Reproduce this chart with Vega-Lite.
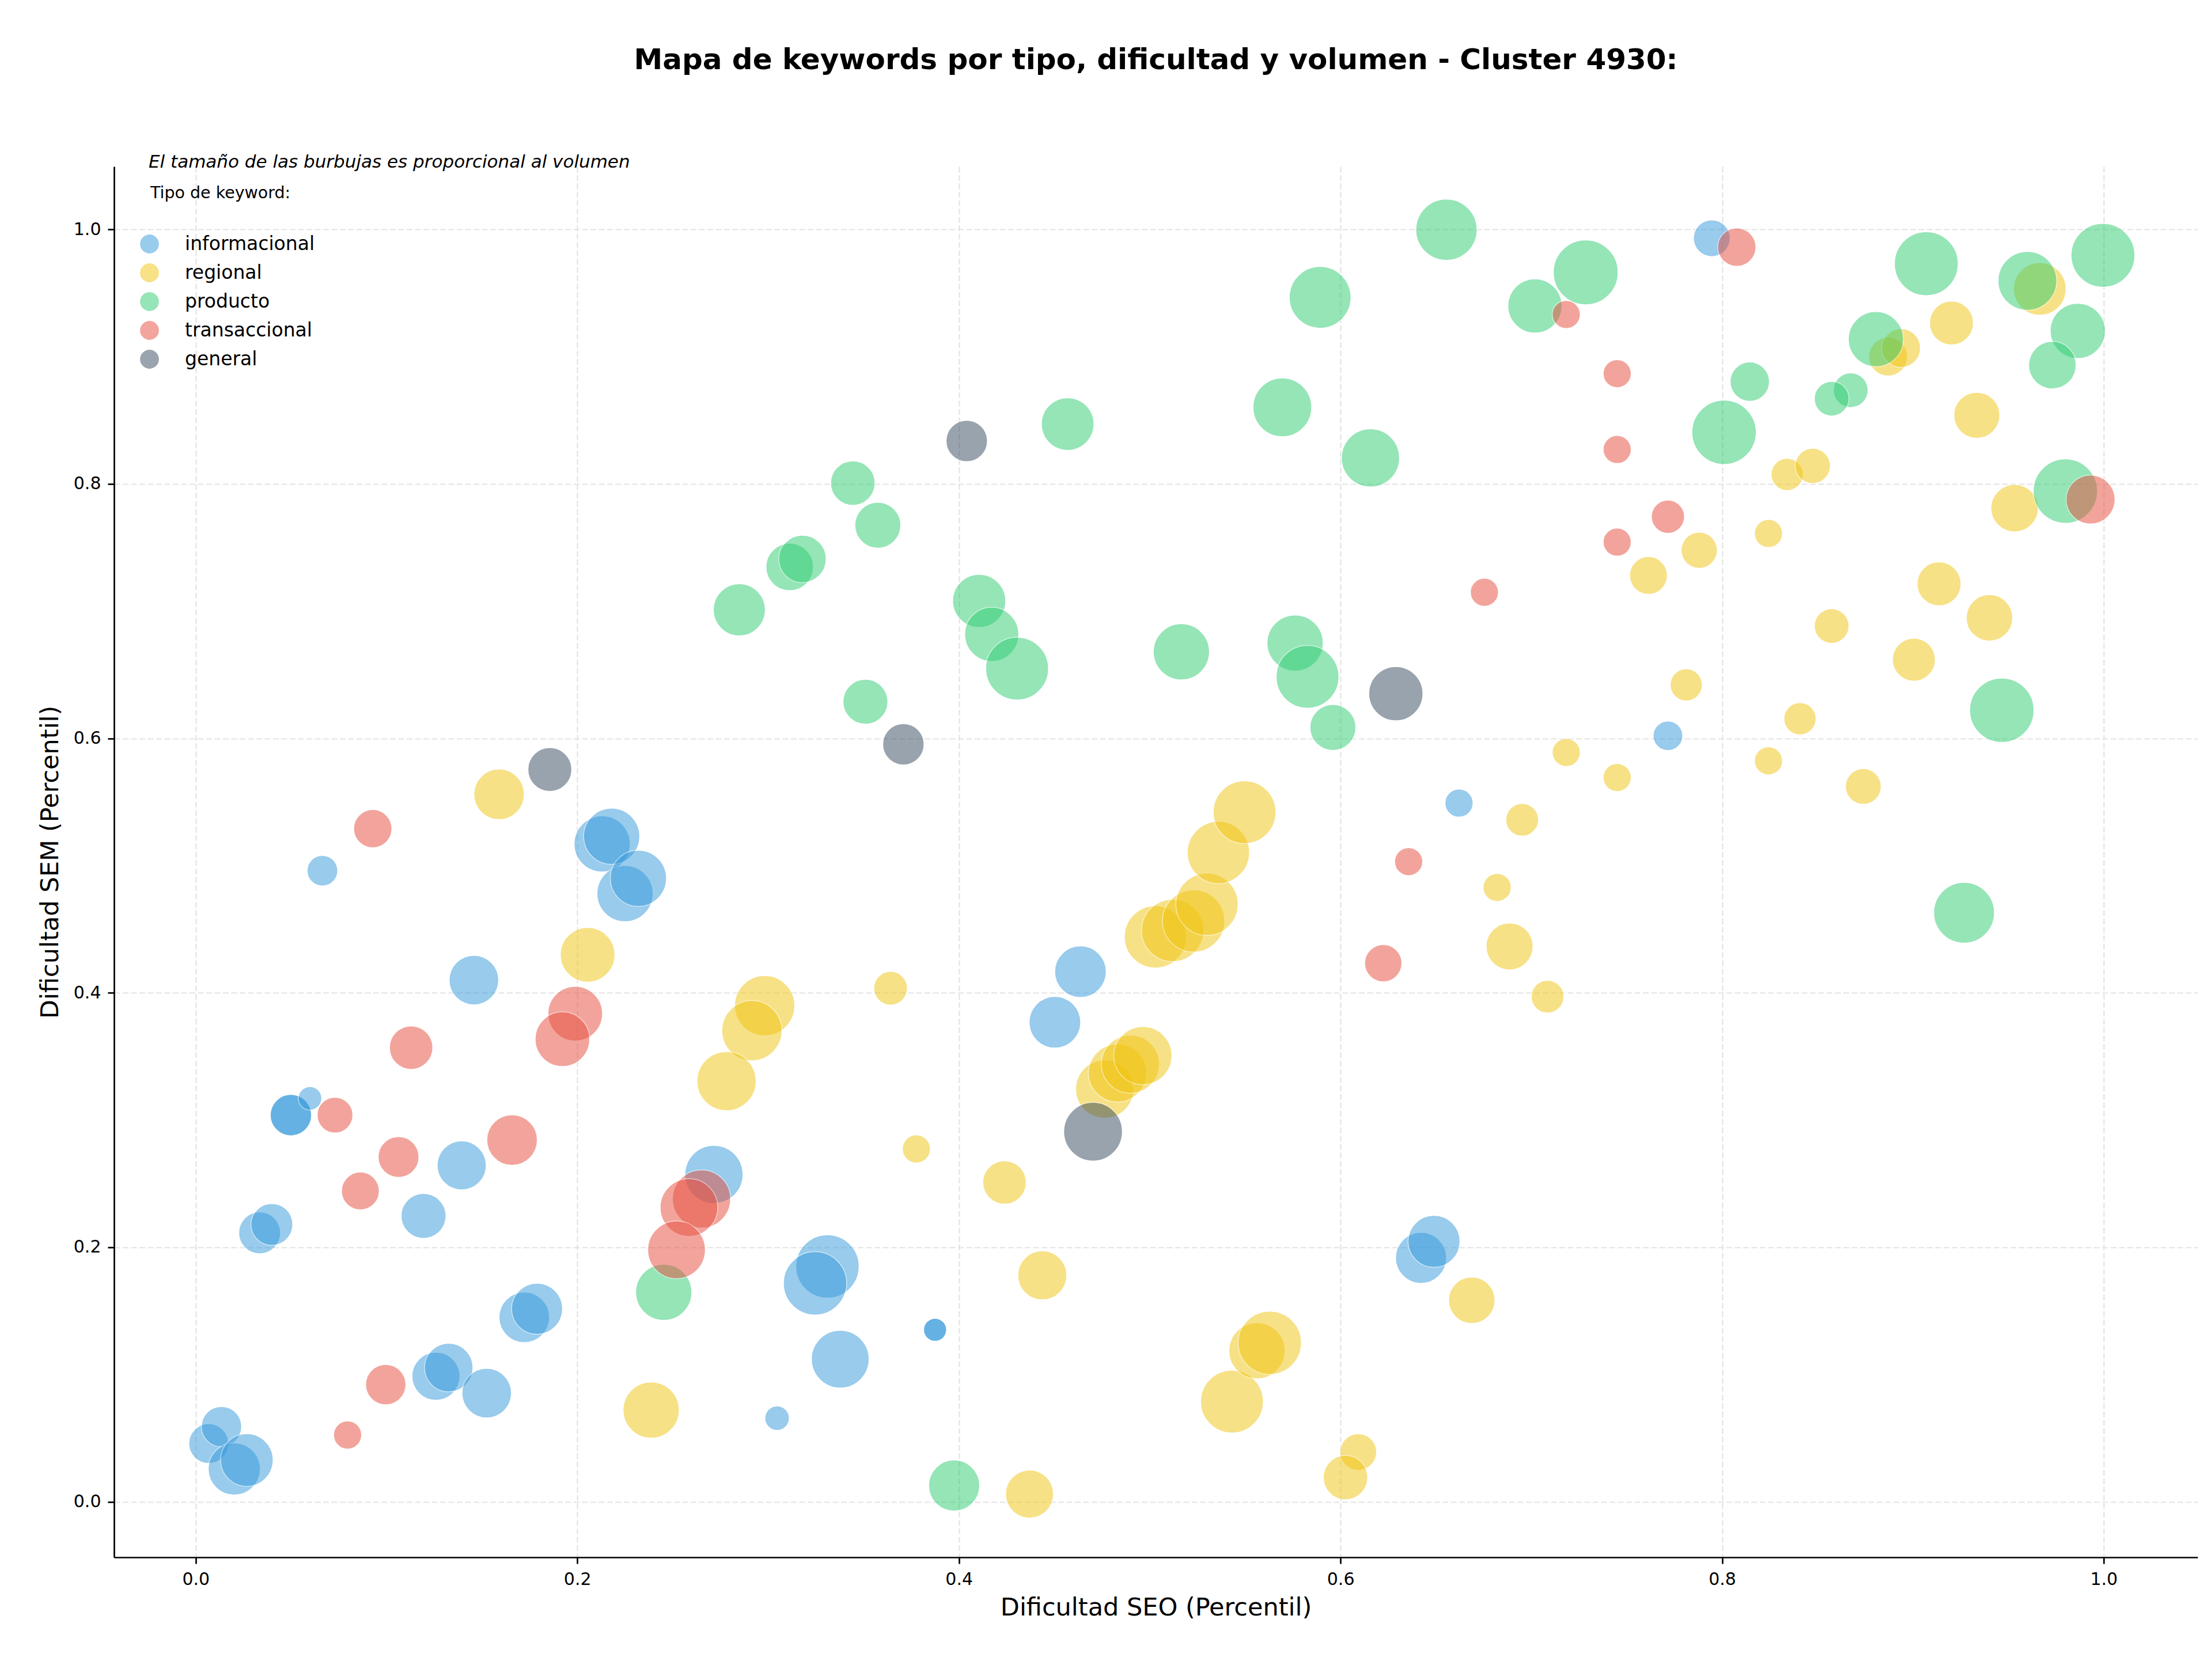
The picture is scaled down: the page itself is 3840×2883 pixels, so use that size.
{
  "$schema": "https://vega.github.io/schema/vega-lite/v6.json",
  "width": 3617,
  "height": 2414,
  "autosize": {"type": "none"},
  "padding": {"left": 198, "top": 289, "right": 25, "bottom": 180},
  "background": "white",
  "config": {
    "view": {"stroke": null},
    "font": "DejaVu Sans"
  },
  "title": {
    "text": "Mapa de keywords por tipo, dificultad y volumen - Cluster 4930:",
    "anchor": "middle",
    "frame": "group",
    "font": "DejaVu Sans",
    "fontSize": 50,
    "fontWeight": "bold",
    "color": "black",
    "baseline": "alphabetic",
    "offset": 96
  },
  "layer": [
    {
      "data": {
        "values": [
          {"seo": 0.0664, "sem": 0.496, "tipo": "informacional", "volumen": 360},
          {"seo": 0.213, "sem": 0.517, "tipo": "informacional", "volumen": 1210},
          {"seo": 0.218, "sem": 0.523, "tipo": "informacional", "volumen": 1210},
          {"seo": 0.225, "sem": 0.478, "tipo": "informacional", "volumen": 1210},
          {"seo": 0.232, "sem": 0.49, "tipo": "informacional", "volumen": 1210},
          {"seo": 0.1458, "sem": 0.41, "tipo": "informacional", "volumen": 941},
          {"seo": 0.0499, "sem": 0.3039, "tipo": "informacional", "volumen": 656},
          {"seo": 0.0499, "sem": 0.3039, "tipo": "informacional", "volumen": 656},
          {"seo": 0.0599, "sem": 0.3171, "tipo": "informacional", "volumen": 212},
          {"seo": 0.1394, "sem": 0.2644, "tipo": "informacional", "volumen": 922},
          {"seo": 0.1194, "sem": 0.2247, "tipo": "informacional", "volumen": 774},
          {"seo": 0.0335, "sem": 0.2114, "tipo": "informacional", "volumen": 672},
          {"seo": 0.0399, "sem": 0.218, "tipo": "informacional", "volumen": 672},
          {"seo": 0.1722, "sem": 0.145, "tipo": "informacional", "volumen": 980},
          {"seo": 0.1789, "sem": 0.1517, "tipo": "informacional", "volumen": 1000},
          {"seo": 0.1259, "sem": 0.0987, "tipo": "informacional", "volumen": 884},
          {"seo": 0.1326, "sem": 0.1055, "tipo": "informacional", "volumen": 903},
          {"seo": 0.1525, "sem": 0.0854, "tipo": "informacional", "volumen": 941},
          {"seo": 0.0068, "sem": 0.0458, "tipo": "informacional", "volumen": 608},
          {"seo": 0.0135, "sem": 0.0591, "tipo": "informacional", "volumen": 624},
          {"seo": 0.0202, "sem": 0.0258, "tipo": "informacional", "volumen": 1040},
          {"seo": 0.0268, "sem": 0.0328, "tipo": "informacional", "volumen": 1061},
          {"seo": 0.2716, "sem": 0.2573, "tipo": "informacional", "volumen": 1300},
          {"seo": 0.3311, "sem": 0.185, "tipo": "informacional", "volumen": 1538},
          {"seo": 0.3246, "sem": 0.1717, "tipo": "informacional", "volumen": 1538},
          {"seo": 0.3378, "sem": 0.1121, "tipo": "informacional", "volumen": 1277},
          {"seo": 0.3047, "sem": 0.0658, "tipo": "informacional", "volumen": 230},
          {"seo": 0.3875, "sem": 0.1352, "tipo": "informacional", "volumen": 203},
          {"seo": 0.3875, "sem": 0.1352, "tipo": "informacional", "volumen": 203},
          {"seo": 0.4637, "sem": 0.4166, "tipo": "informacional", "volumen": 1020},
          {"seo": 0.4503, "sem": 0.3769, "tipo": "informacional", "volumen": 1020},
          {"seo": 0.6621, "sem": 0.5491, "tipo": "informacional", "volumen": 303},
          {"seo": 0.7716, "sem": 0.602, "tipo": "informacional", "volumen": 336},
          {"seo": 0.7946, "sem": 0.993, "tipo": "informacional", "volumen": 518},
          {"seo": 0.6422, "sem": 0.1917, "tipo": "informacional", "volumen": 1000},
          {"seo": 0.649, "sem": 0.2047, "tipo": "informacional", "volumen": 1040},

          {"seo": 0.159, "sem": 0.556, "tipo": "regional", "volumen": 980},
          {"seo": 0.2054, "sem": 0.4299, "tipo": "regional", "volumen": 1145},
          {"seo": 0.2982, "sem": 0.3899, "tipo": "regional", "volumen": 1392},
          {"seo": 0.2915, "sem": 0.3703, "tipo": "regional", "volumen": 1392},
          {"seo": 0.2782, "sem": 0.3306, "tipo": "regional", "volumen": 1346},
          {"seo": 0.3642, "sem": 0.4036, "tipo": "regional", "volumen": 436},
          {"seo": 0.3777, "sem": 0.2773, "tipo": "regional", "volumen": 303},
          {"seo": 0.2387, "sem": 0.0721, "tipo": "regional", "volumen": 1210},
          {"seo": 0.4437, "sem": 0.178, "tipo": "regional", "volumen": 922},
          {"seo": 0.4239, "sem": 0.251, "tipo": "regional", "volumen": 723},
          {"seo": 0.437, "sem": 0.0061, "tipo": "regional", "volumen": 884},
          {"seo": 0.4764, "sem": 0.3244, "tipo": "regional", "volumen": 1300},
          {"seo": 0.4831, "sem": 0.337, "tipo": "regional", "volumen": 1300},
          {"seo": 0.4899, "sem": 0.344, "tipo": "regional", "volumen": 1300},
          {"seo": 0.4964, "sem": 0.3506, "tipo": "regional", "volumen": 1300},
          {"seo": 0.503, "sem": 0.444, "tipo": "regional", "volumen": 1488},
          {"seo": 0.512, "sem": 0.449, "tipo": "regional", "volumen": 1488},
          {"seo": 0.523, "sem": 0.4565, "tipo": "regional", "volumen": 1488},
          {"seo": 0.53, "sem": 0.4696, "tipo": "regional", "volumen": 1488},
          {"seo": 0.536, "sem": 0.5103, "tipo": "regional", "volumen": 1488},
          {"seo": 0.5497, "sem": 0.542, "tipo": "regional", "volumen": 1513},
          {"seo": 0.5431, "sem": 0.0788, "tipo": "regional", "volumen": 1513},
          {"seo": 0.5562, "sem": 0.1187, "tipo": "regional", "volumen": 1210},
          {"seo": 0.5629, "sem": 0.125, "tipo": "regional", "volumen": 1538},
          {"seo": 0.6093, "sem": 0.0391, "tipo": "regional", "volumen": 518},
          {"seo": 0.6026, "sem": 0.0191, "tipo": "regional", "volumen": 757},
          {"seo": 0.6688, "sem": 0.1584, "tipo": "regional", "volumen": 828},
          {"seo": 0.6821, "sem": 0.4828, "tipo": "regional", "volumen": 303},
          {"seo": 0.6886, "sem": 0.4365, "tipo": "regional", "volumen": 846},
          {"seo": 0.7085, "sem": 0.397, "tipo": "regional", "volumen": 410},
          {"seo": 0.6952, "sem": 0.536, "tipo": "regional", "volumen": 410},
          {"seo": 0.7183, "sem": 0.5889, "tipo": "regional", "volumen": 303},
          {"seo": 0.745, "sem": 0.5692, "tipo": "regional", "volumen": 303},
          {"seo": 0.7812, "sem": 0.642, "tipo": "regional", "volumen": 397},
          {"seo": 0.7614, "sem": 0.728, "tipo": "regional", "volumen": 548},
          {"seo": 0.788, "sem": 0.7478, "tipo": "regional", "volumen": 504},
          {"seo": 0.8243, "sem": 0.761, "tipo": "regional", "volumen": 303},
          {"seo": 0.8243, "sem": 0.5823, "tipo": "regional", "volumen": 303},
          {"seo": 0.8408, "sem": 0.6154, "tipo": "regional", "volumen": 397},
          {"seo": 0.874, "sem": 0.5622, "tipo": "regional", "volumen": 490},
          {"seo": 0.8574, "sem": 0.6883, "tipo": "regional", "volumen": 462},
          {"seo": 0.9005, "sem": 0.6618, "tipo": "regional", "volumen": 706},
          {"seo": 0.9137, "sem": 0.7214, "tipo": "regional", "volumen": 740},
          {"seo": 0.9401, "sem": 0.6947, "tipo": "regional", "volumen": 828},
          {"seo": 0.9533, "sem": 0.7809, "tipo": "regional", "volumen": 865},
          {"seo": 0.8341, "sem": 0.8074, "tipo": "regional", "volumen": 397},
          {"seo": 0.8475, "sem": 0.8141, "tipo": "regional", "volumen": 476},
          {"seo": 0.9335, "sem": 0.8539, "tipo": "regional", "volumen": 810},
          {"seo": 0.887, "sem": 0.9, "tipo": "regional", "volumen": 578},
          {"seo": 0.8938, "sem": 0.9067, "tipo": "regional", "volumen": 578},
          {"seo": 0.9202, "sem": 0.9264, "tipo": "regional", "volumen": 740},
          {"seo": 0.9665, "sem": 0.9532, "tipo": "regional", "volumen": 1061},

          {"seo": 0.2849, "sem": 0.701, "tipo": "producto", "volumen": 1040},
          {"seo": 0.3113, "sem": 0.7347, "tipo": "producto", "volumen": 865},
          {"seo": 0.318, "sem": 0.741, "tipo": "producto", "volumen": 865},
          {"seo": 0.3444, "sem": 0.8006, "tipo": "producto", "volumen": 757},
          {"seo": 0.3575, "sem": 0.7675, "tipo": "producto", "volumen": 810},
          {"seo": 0.351, "sem": 0.6288, "tipo": "producto", "volumen": 774},
          {"seo": 0.457, "sem": 0.847, "tipo": "producto", "volumen": 1061},
          {"seo": 0.4106, "sem": 0.708, "tipo": "producto", "volumen": 1082},
          {"seo": 0.4172, "sem": 0.6817, "tipo": "producto", "volumen": 1124},
          {"seo": 0.4305, "sem": 0.6548, "tipo": "producto", "volumen": 1513},
          {"seo": 0.5166, "sem": 0.668, "tipo": "producto", "volumen": 1210},
          {"seo": 0.5893, "sem": 0.9466, "tipo": "producto", "volumen": 1464},
          {"seo": 0.6555, "sem": 0.9997, "tipo": "producto", "volumen": 1440},
          {"seo": 0.7019, "sem": 0.9398, "tipo": "producto", "volumen": 1124},
          {"seo": 0.7285, "sem": 0.9662, "tipo": "producto", "volumen": 1613},
          {"seo": 0.5695, "sem": 0.8601, "tipo": "producto", "volumen": 1323},
          {"seo": 0.6157, "sem": 0.8204, "tipo": "producto", "volumen": 1300},
          {"seo": 0.5762, "sem": 0.6749, "tipo": "producto", "volumen": 1210},
          {"seo": 0.5827, "sem": 0.6484, "tipo": "producto", "volumen": 1513},
          {"seo": 0.596, "sem": 0.6086, "tipo": "producto", "volumen": 810},
          {"seo": 0.907, "sem": 0.973, "tipo": "producto", "volumen": 1563},
          {"seo": 0.9996, "sem": 0.9796, "tipo": "producto", "volumen": 1563},
          {"seo": 0.96, "sem": 0.9595, "tipo": "producto", "volumen": 1323},
          {"seo": 0.8806, "sem": 0.9137, "tipo": "producto", "volumen": 1166},
          {"seo": 0.9864, "sem": 0.9202, "tipo": "producto", "volumen": 1166},
          {"seo": 0.9731, "sem": 0.8933, "tipo": "producto", "volumen": 865},
          {"seo": 0.8145, "sem": 0.8803, "tipo": "producto", "volumen": 593},
          {"seo": 0.8674, "sem": 0.8736, "tipo": "producto", "volumen": 462},
          {"seo": 0.8574, "sem": 0.8669, "tipo": "producto", "volumen": 462},
          {"seo": 0.801, "sem": 0.8405, "tipo": "producto", "volumen": 1588},
          {"seo": 0.9799, "sem": 0.7943, "tipo": "producto", "volumen": 1588},
          {"seo": 0.9466, "sem": 0.6221, "tipo": "producto", "volumen": 1588},
          {"seo": 0.9268, "sem": 0.4629, "tipo": "producto", "volumen": 1416},
          {"seo": 0.2453, "sem": 0.1647, "tipo": "producto", "volumen": 1210},
          {"seo": 0.3975, "sem": 0.0128, "tipo": "producto", "volumen": 1000},

          {"seo": 0.0928, "sem": 0.529, "tipo": "transaccional", "volumen": 563},
          {"seo": 0.1989, "sem": 0.3836, "tipo": "transaccional", "volumen": 1145},
          {"seo": 0.1922, "sem": 0.3636, "tipo": "transaccional", "volumen": 1145},
          {"seo": 0.1129, "sem": 0.3569, "tipo": "transaccional", "volumen": 723},
          {"seo": 0.073, "sem": 0.3039, "tipo": "transaccional", "volumen": 490},
          {"seo": 0.1063, "sem": 0.271, "tipo": "transaccional", "volumen": 640},
          {"seo": 0.0863, "sem": 0.2443, "tipo": "transaccional", "volumen": 548},
          {"seo": 0.1658, "sem": 0.2843, "tipo": "transaccional", "volumen": 980},
          {"seo": 0.0996, "sem": 0.0921, "tipo": "transaccional", "volumen": 624},
          {"seo": 0.0796, "sem": 0.0525, "tipo": "transaccional", "volumen": 303},
          {"seo": 0.2651, "sem": 0.238, "tipo": "transaccional", "volumen": 1300},
          {"seo": 0.2585, "sem": 0.2313, "tipo": "transaccional", "volumen": 1277},
          {"seo": 0.252, "sem": 0.198, "tipo": "transaccional", "volumen": 1277},
          {"seo": 0.6357, "sem": 0.5031, "tipo": "transaccional", "volumen": 303},
          {"seo": 0.6224, "sem": 0.4233, "tipo": "transaccional", "volumen": 533},
          {"seo": 0.6754, "sem": 0.7148, "tipo": "transaccional", "volumen": 303},
          {"seo": 0.7183, "sem": 0.9331, "tipo": "transaccional", "volumen": 303},
          {"seo": 0.745, "sem": 0.8866, "tipo": "transaccional", "volumen": 303},
          {"seo": 0.745, "sem": 0.827, "tipo": "transaccional", "volumen": 303},
          {"seo": 0.745, "sem": 0.7542, "tipo": "transaccional", "volumen": 303},
          {"seo": 0.7716, "sem": 0.7742, "tipo": "transaccional", "volumen": 423},
          {"seo": 0.8077, "sem": 0.986, "tipo": "transaccional", "volumen": 563},
          {"seo": 0.9931, "sem": 0.7877, "tipo": "transaccional", "volumen": 922},

          {"seo": 0.1856, "sem": 0.5755, "tipo": "general", "volumen": 740},
          {"seo": 0.4041, "sem": 0.8337, "tipo": "general", "volumen": 656},
          {"seo": 0.3709, "sem": 0.5953, "tipo": "general", "volumen": 656},
          {"seo": 0.629, "sem": 0.6351, "tipo": "general", "volumen": 1124},
          {"seo": 0.4703, "sem": 0.2909, "tipo": "general", "volumen": 1323}
        ]
      },
      "mark": {"type": "circle", "opacity": 0.5, "stroke": "white", "strokeWidth": 1.5},
      "encoding": {
        "x": {
          "field": "seo",
          "type": "quantitative",
          "scale": {"domain": [-0.0428, 1.0492], "nice": false, "zero": false},
          "axis": {
            "title": "Dificultad SEO (Percentil)",
            "values": [0, 0.2, 0.4, 0.6, 0.8, 1.0],
            "format": ".1f",
            "labelFont": "DejaVu Sans",
            "labelFontSize": 30,
            "labelColor": "black",
            "labelPadding": 12,
            "titleFont": "DejaVu Sans",
            "titleFontSize": 43,
            "titleFontWeight": "normal",
            "titleColor": "black",
            "titlePadding": 13,
            "domainColor": "black",
            "domainWidth": 2.7,
            "tickColor": "black",
            "tickWidth": 2.7,
            "tickSize": 11,
            "grid": true,
            "gridColor": "#e3e3e3",
            "gridWidth": 2.2,
            "gridDash": [10, 4.5]
          }
        },
        "y": {
          "field": "sem",
          "type": "quantitative",
          "scale": {"domain": [-0.0436, 1.0494], "nice": false, "zero": false},
          "axis": {
            "title": "Dificultad SEM (Percentil)",
            "values": [0, 0.2, 0.4, 0.6, 0.8, 1.0],
            "format": ".1f",
            "labelFont": "DejaVu Sans",
            "labelFontSize": 30,
            "labelColor": "black",
            "labelPadding": 12,
            "titleFont": "DejaVu Sans",
            "titleFontSize": 43,
            "titleFontWeight": "normal",
            "titleColor": "black",
            "titlePadding": 18,
            "domainColor": "black",
            "domainWidth": 2.7,
            "tickColor": "black",
            "tickWidth": 2.7,
            "tickSize": 11,
            "grid": true,
            "gridColor": "#e3e3e3",
            "gridWidth": 2.2,
            "gridDash": [10, 4.5]
          }
        },
        "color": {
          "field": "tipo",
          "type": "nominal",
          "scale": {
            "domain": ["informacional", "regional", "producto", "transaccional", "general"],
            "range": ["#3498db", "#f1c40f", "#2ecc71", "#e74c3c", "#34495e"]
          },
          "legend": {
            "orient": "none",
            "legendX": 45,
            "legendY": 118,
            "title": null,
            "padding": 0,
            "symbolType": "circle",
            "symbolSize": 1075,
            "symbolOpacity": 0.5,
            "symbolStrokeWidth": 0,
            "labelFont": "DejaVu Sans",
            "labelFontSize": 33,
            "labelColor": "black",
            "labelLimit": 1000,
            "labelOffset": 45,
            "rowPadding": 16
          }
        },
        "size": {
          "field": "volumen",
          "type": "quantitative",
          "scale": {"domain": [0, 1600], "range": [0, 12566], "zero": true},
          "legend": null
        }
      }
    },
    {
      "data": {"values": [{}]},
      "mark": {
        "type": "text",
        "font": "DejaVu Sans",
        "fontStyle": "italic",
        "fontSize": 31,
        "align": "left",
        "baseline": "middle",
        "color": "black"
      },
      "encoding": {
        "x": {"datum": -0.0247, "type": "quantitative"},
        "y": {"datum": 1.0525, "type": "quantitative"},
        "text": {"value": "El tamaño de las burbujas es proporcional al volumen"}
      }
    },
    {
      "data": {"values": [{}]},
      "mark": {
        "type": "text",
        "font": "DejaVu Sans",
        "fontSize": 28.5,
        "align": "left",
        "baseline": "middle",
        "color": "black"
      },
      "encoding": {
        "x": {"datum": -0.0238, "type": "quantitative"},
        "y": {"datum": 1.0285, "type": "quantitative"},
        "text": {"value": "Tipo de keyword:"}
      }
    }
  ]
}
